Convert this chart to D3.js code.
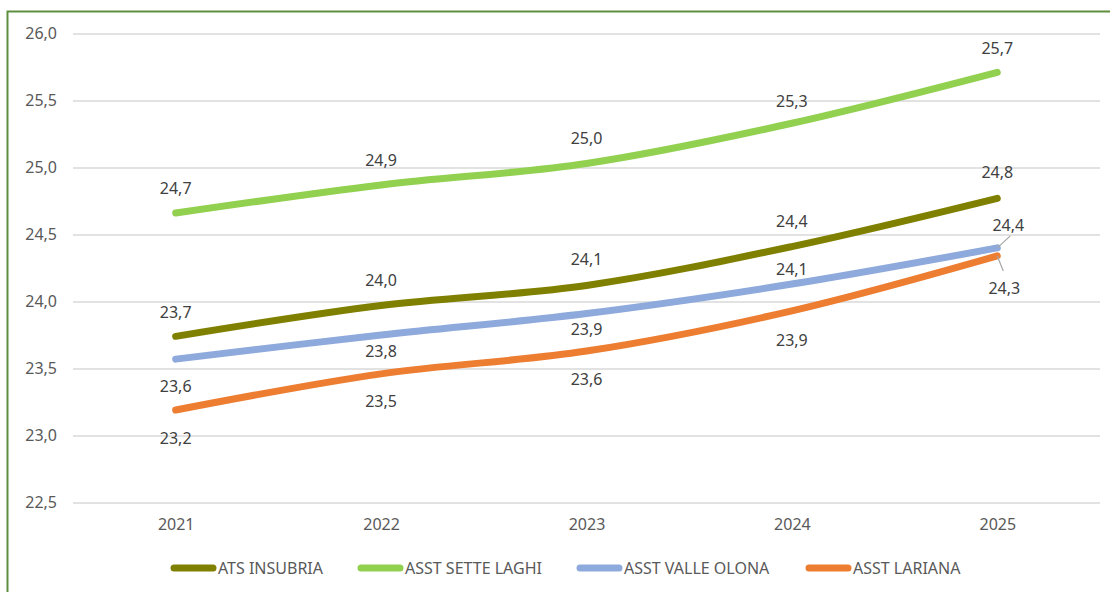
<!DOCTYPE html>
<html>
<head>
<meta charset="utf-8">
<script src="https://cdn.jsdelivr.net/npm/d3@7"></script>
<style>
  body { margin: 0; background: #fff; }
  svg { display: block; font-family: "Noto Sans", sans-serif; }
</style>
</head>
<body>
<div id="chart"></div>
<script>
// data
var years = ["2021", "2022", "2023", "2024", "2025"];
var seriesNames = ["ATS INSUBRIA", "ASST SETTE LAGHI", "ASST VALLE OLONA", "ASST LARIANA"];
var atsInsubria = [23.74, 23.97, 24.12, 24.41, 24.77];
var asstSetteLaghi = [24.66, 24.87, 25.03, 25.33, 25.71];
var asstValleOlona = [23.57, 23.75, 23.91, 24.13, 24.40];
var asstLariana = [23.19, 23.46, 23.63, 23.93, 24.34];
var yTicks = [22.5, 23.0, 23.5, 24.0, 24.5, 25.0, 25.5, 26.0];

var colors = ["#808000", "#92D050", "#8EA9DB", "#ED7D31"];
var allSeries = [atsInsubria, asstSetteLaghi, asstValleOlona, asstLariana];

// label placement (dx, dy from point)
var labelOffsets = [
  [[0, -24], [0, -25], [0, -26], [0, -25], [0, -26]],
  [[0, -25], [0, -25], [0, -25], [0, -22], [0, -24]],
  [[0, 27], [0, 16], [0, 16], [0, -15], [11, -23]],
  [[0, 28], [0, 28], [0, 28], [0, 30], [7, 32]]
];

var svgWidth = 1110, svgHeight = 592;
var margin = { top: 33.5, right: 10, bottom: 89.5, left: 73 };
var width = 1100 - margin.left;
var height = svgHeight - margin.top - margin.bottom;

var locale = d3.formatLocale({ decimal: ",", thousands: ".", grouping: [3], currency: ["", "€"] });
var fmt = locale.format(".1f");

var svg = d3.select("#chart").append("svg")
  .attr("width", svgWidth)
  .attr("height", svgHeight);

// outer border
svg.append("rect")
  .attr("x", 7.5).attr("y", 11.5)
  .attr("width", svgWidth + 20).attr("height", svgHeight + 20)
  .attr("fill", "none")
  .attr("stroke", "#5E8F3E")
  .attr("stroke-width", 2);

var g = svg.append("g")
  .attr("transform", "translate(" + margin.left + "," + margin.top + ")");

var x = d3.scalePoint().domain(years).range([0, width]).padding(0.5);
var y = d3.scaleLinear().domain([22.5, 26]).range([height, 0]);

// gridlines
g.append("g").selectAll("line")
  .data(yTicks)
  .enter().append("line")
  .attr("x1", 0).attr("x2", width)
  .attr("y1", d => Math.round(y(d)) + 0.5)
  .attr("y2", d => Math.round(y(d)) + 0.5)
  .attr("stroke", "#D9D9D9")
  .attr("stroke-width", 1.5);

var yAxis = g.append("g")
  .call(d3.axisLeft(y).tickValues(yTicks).tickFormat(fmt).tickSize(0).tickPadding(16));
yAxis.select(".domain").remove();
yAxis.selectAll("text").attr("fill", "#595959").style("font-size", "16px").style("font-family", "Noto Sans");

var xAxis = g.append("g")
  .attr("transform", "translate(0," + height + ")")
  .call(d3.axisBottom(x).tickSize(0).tickPadding(16));
xAxis.select(".domain").remove();
xAxis.selectAll("text").attr("fill", "#595959").style("font-size", "16px").style("font-family", "Noto Sans");

var line = d3.line()
  .x((d, i) => x(years[i]))
  .y(d => y(d))
  .curve(d3.curveCatmullRom.alpha(0.5));

g.append("g").selectAll("path")
  .data(allSeries)
  .enter().append("path")
  .attr("d", line)
  .attr("fill", "none")
  .attr("stroke", (d, i) => colors[i])
  .attr("stroke-width", 7)
  .attr("stroke-linecap", "round");

// leader lines for crowded 2025 labels
var leaders = [[2, 4, 13, -12], [3, 4, 6, 15]];
g.append("g").selectAll("line")
  .data(leaders)
  .enter().append("line")
  .attr("x1", d => x(years[d[1]]))
  .attr("y1", d => y(allSeries[d[0]][d[1]]))
  .attr("x2", d => x(years[d[1]]) + d[2])
  .attr("y2", d => y(allSeries[d[0]][d[1]]) + d[3])
  .attr("stroke", "#A6A6A6")
  .attr("stroke-width", 1.2);

// data labels
allSeries.forEach(function(vals, s) {
  g.append("g").selectAll("text")
    .data(vals)
    .enter().append("text")
    .attr("x", (d, i) => x(years[i]) + labelOffsets[s][i][0])
    .attr("y", (d, i) => y(d) + labelOffsets[s][i][1])
    .attr("dy", "0.35em")
    .attr("text-anchor", "middle")
    .attr("fill", "#404040")
    .style("font-size", "16px")
    .text(d => fmt(d));
});

// legend
var legendX = [171, 358, 577, 806];
var legend = svg.append("g").attr("transform", "translate(0,568)");
var items = legend.selectAll("g")
  .data(seriesNames)
  .enter().append("g")
  .attr("transform", (d, i) => "translate(" + legendX[i] + ",0)");
items.append("line")
  .attr("x1", 3).attr("x2", 42)
  .attr("y1", 0).attr("y2", 0)
  .attr("stroke", (d, i) => colors[i])
  .attr("stroke-width", 7)
  .attr("stroke-linecap", "round");
items.append("text")
  .attr("x", 47)
  .attr("dy", "0.35em")
  .attr("fill", "#595959")
  .style("font-size", "16px")
  .text(d => d);
</script>
</body>
</html>
